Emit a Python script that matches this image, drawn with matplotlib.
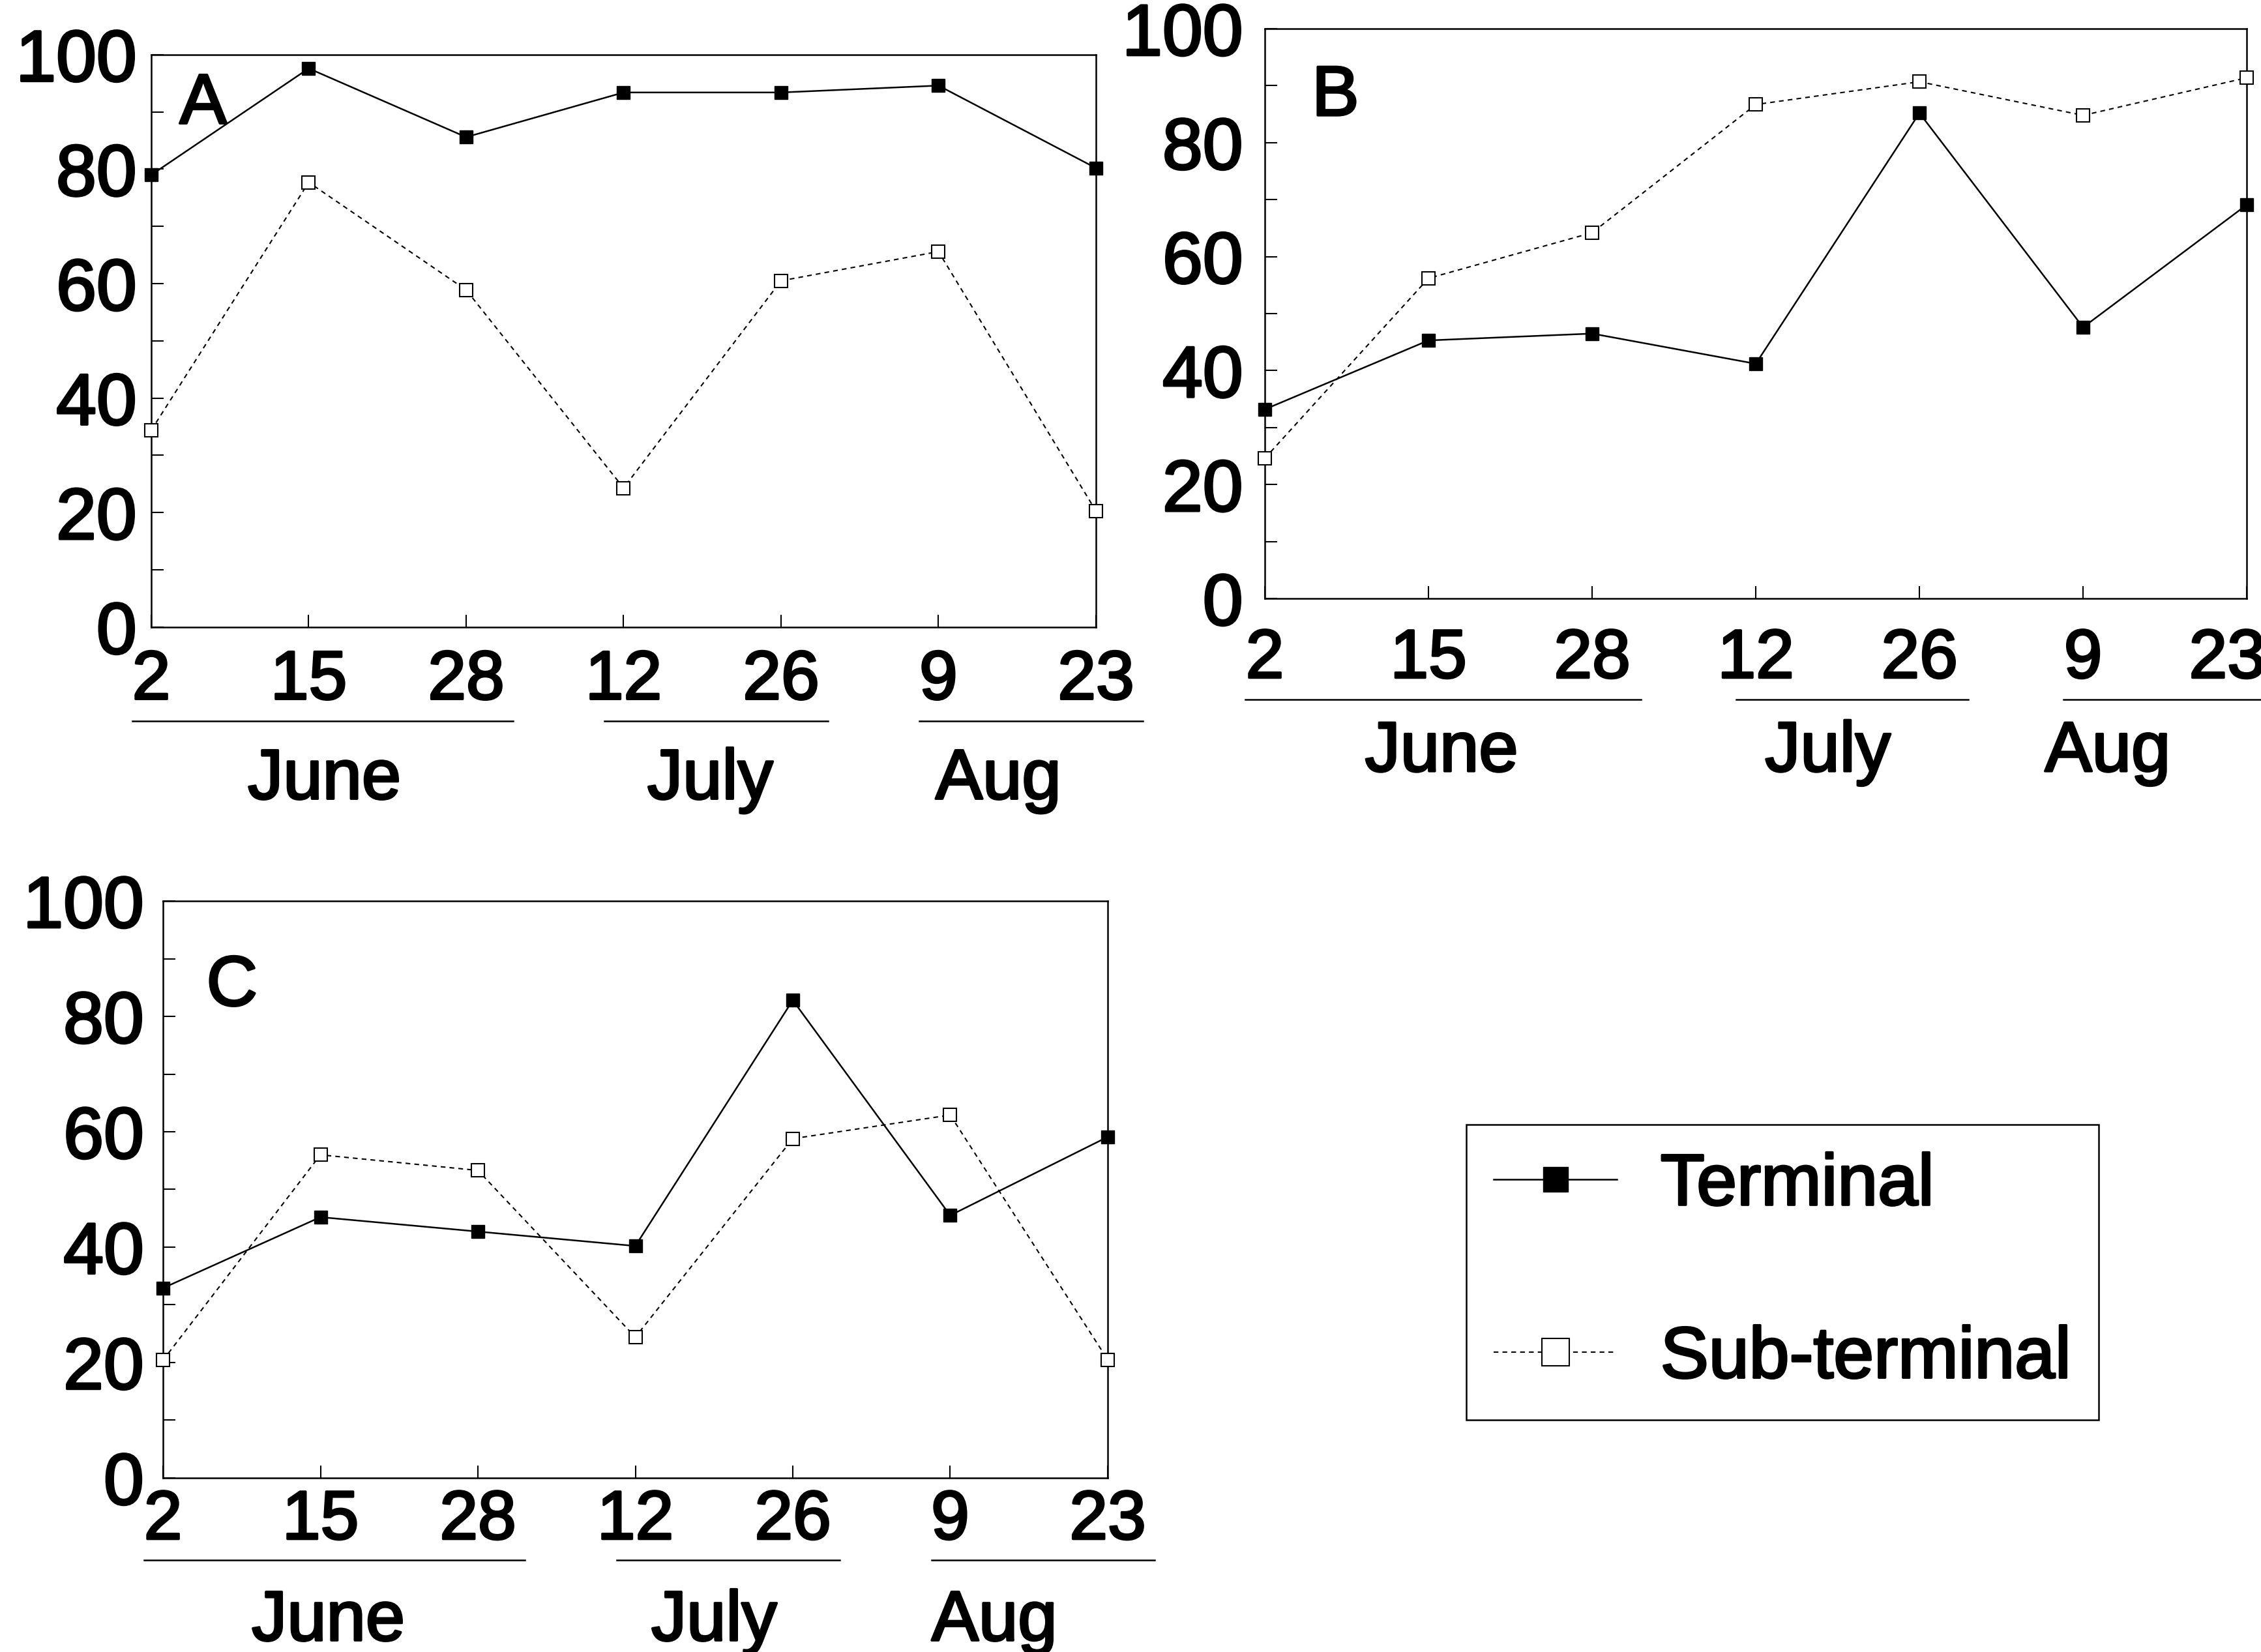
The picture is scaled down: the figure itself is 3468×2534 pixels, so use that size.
import matplotlib
matplotlib.use("Agg")
import matplotlib.pyplot as plt
import matplotlib.patheffects as pe
import matplotlib.transforms as mtransforms
from matplotlib.ticker import MultipleLocator

plt.rcParams['font.family'] = ['Liberation Sans', 'DejaVu Sans']

# sampling dates (evenly spaced on the axis) and months they belong to
dates = ["2", "15", "28", "12", "26", "9", "23"]
months = ["June", "July", "Aug"]
month_first = [0, 3, 5]
month_last = [2, 4, 6]

terminal_a = [79.0, 97.6, 85.6, 93.4, 93.4, 94.6, 80.2]
subterm_a = [34.4, 77.7, 58.9, 24.3, 60.5, 65.6, 20.3]

terminal_b = [33.2, 45.3, 46.5, 41.2, 85.2, 47.6, 69.1]
subterm_b = [24.6, 56.2, 64.2, 86.7, 90.7, 84.8, 91.4]

terminal_c = [32.9, 45.2, 42.7, 40.2, 82.8, 45.5, 59.1]
subterm_c = [20.4, 56.0, 53.3, 24.4, 58.8, 62.9, 20.5]

bold = [pe.withStroke(linewidth=2.5, foreground="black")]

fig = plt.figure(figsize=(34.68, 25.34), dpi=100)

# rect, panel letter position, x pad, y pad, underline y, month label y, month label shifts
panels = [
    ("A", terminal_a, subterm_a, [0.0669, 0.6204, 0.4178, 0.3465], (0.030, 0.880), 24, 16, -0.164, -0.268, [0.1, 0.05, -0.12]),
    ("B", terminal_b, subterm_b, [0.5594, 0.6377, 0.4343, 0.3449], (0.048, 0.848), 32, 24, -0.177, -0.271, [0.08, -0.06, -0.35]),
    ("C", terminal_c, subterm_c, [0.0721, 0.1054, 0.4178, 0.3492], (0.046, 0.819), 12, 21, -0.142, -0.250, [0.05, 0.0, -0.22]),
]

handles = None
for letter, term, sub, rect, lpos, xpad, ypad, uline_y, mlab_y, mshift in panels:
    ax = fig.add_axes(rect)
    x = list(range(len(dates)))
    h1, = ax.plot(x, term, color="black", lw=1.8, marker="s", ms=14,
                  mfc="black", mec="black", clip_on=False, zorder=3)
    h2, = ax.plot(x, sub, color="black", lw=1.5, ls=(0, (3.5, 3)), marker="s", ms=15,
                  mfc="white", mec="black", mew=1.5, clip_on=False, zorder=3)
    if handles is None:
        handles = [h1, h2]

    ax.set_xlim(0, 6)
    ax.set_ylim(0, 100)
    ax.set_xticks(x)
    ax.set_xticklabels(dates)
    ax.yaxis.set_major_locator(MultipleLocator(20))
    ax.yaxis.set_minor_locator(MultipleLocator(10))
    ax.tick_params(axis="x", direction="in", length=14, width=1.5, pad=xpad, labelsize=76)
    ax.tick_params(axis="y", which="both", direction="in", length=14, width=1.5, pad=ypad, labelsize=80)
    for lab in ax.get_xticklabels() + ax.get_yticklabels():
        lab.set_path_effects(bold)
    for s in ax.spines.values():
        s.set_linewidth(1.8)

    if letter == "B":
        # last date label sits a little left of its tick, at the page edge
        last = ax.get_xticklabels()[-1]
        last.set_transform(last.get_transform() +
                           mtransforms.ScaledTranslation(-0.3, 0, fig.dpi_scale_trans))

    ax.text(lpos[0], lpos[1], letter, transform=ax.transAxes, fontsize=78,
            ha="left", va="baseline", path_effects=bold)

    trans = ax.get_xaxis_transform()
    for name, a, b, dx in zip(months, month_first, month_last, mshift):
        ax.plot([a - 0.12, b + 0.3], [uline_y, uline_y], color="black", lw=1.8,
                transform=trans, clip_on=False)
        ax.text((a + b) / 2 + dx, mlab_y, name, transform=trans, fontsize=78,
                ha="center", va="center", path_effects=bold)

leg = fig.legend(handles, ["Terminal", "Sub-terminal"], loc="upper left",
                 bbox_to_anchor=(0.6485, 0.3193), borderaxespad=0, fontsize=80,
                 frameon=True, fancybox=False, edgecolor="black", framealpha=1,
                 handlelength=1.7, handletextpad=0.6, labelspacing=1.45,
                 borderpad=0.38, markerscale=2.0)
leg.get_frame().set_linewidth(1.8)
for t in leg.get_texts():
    t.set_path_effects(bold)

fig.savefig("out.png", dpi=100)
